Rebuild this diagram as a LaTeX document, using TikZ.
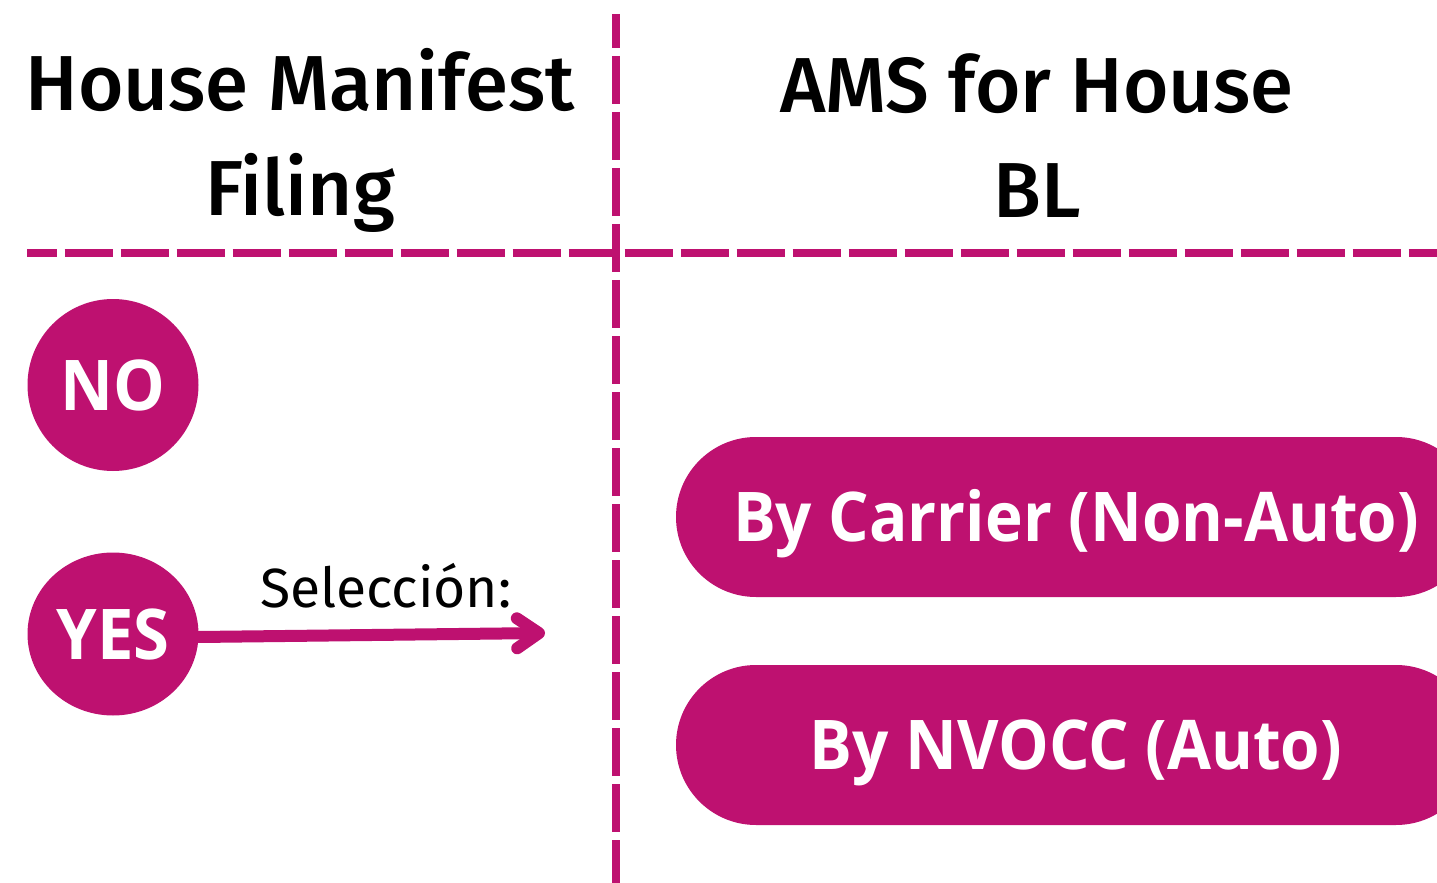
\documentclass[tikz,border=0pt]{standalone}
\usepackage{fontspec}
\usetikzlibrary{arrows.meta,shapes.geometric}
\newfontfamily\headfont{Fira Sans Medium}
\newfontfamily\notefont{Fira Sans}
\newfontfamily\boxfont{Open Sans}[FakeStretch=0.93]
\definecolor{amsmag}{RGB}{190,17,112}

\begin{document}
\begin{tikzpicture}[x=0.5pt, y=-0.5pt, node distance=124.5pt, auto,
	head/.style={align=center, anchor=north, inner sep=0pt, font=\headfont\fontsize{39}{52.5}\selectfont},
	choice/.style={ellipse, fill=amsmag, text=white, inner sep=0pt, minimum width=85.5pt, minimum height=86pt, text height=25pt, text depth=0pt, font=\boxfont\bfseries\fontsize{35}{35}\selectfont},
	pill/.style={fill=amsmag, text=white, rounded corners=40pt, minimum width=400pt, minimum height=80pt, inner sep=0pt, text height=24.5pt, text depth=0pt, font=\boxfont\bfseries\fontsize{34.3}{34.3}\selectfont},
	divider/.style={amsmag, line width=4pt, dash pattern=on 24pt off 4pt},
	pick/.style={amsmag, line width=6pt, line cap=round, -{Straight Barb[length=11pt,width=15pt,round]}}]
	\clip (0,0) rectangle (1437,883);
	\draw[divider, dash phase=7pt] (616,14) -- (616,883);
	\draw[divider, dash phase=9.2pt] (27,253) -- (1437,253);
	\node (HMF) [head] at (300,47.5) {House Manifest\\Filing};
	\node (AMS) [head] at (1037,53.5) {AMS for House\\BL};
	\node (NO) [choice] at (113,385) {NO};
	\node (YES) [choice, below of=NO, minimum height=81.5pt] {YES};
	\node (C1) [pill] at (1076,517) {By Carrier (Non-Auto)};
	\node (C2) [pill, node distance=114pt, below of=C1] {By NVOCC (Auto)};
	\coordinate (S) at (545,633);
	\draw[pick] (YES.-2) to node [pos=.54, anchor=base, yshift=13.5pt, font=\notefont\fontsize{27.6}{27.6}\selectfont, text=black] {Selección:} (S);
\end{tikzpicture}
\end{document}
